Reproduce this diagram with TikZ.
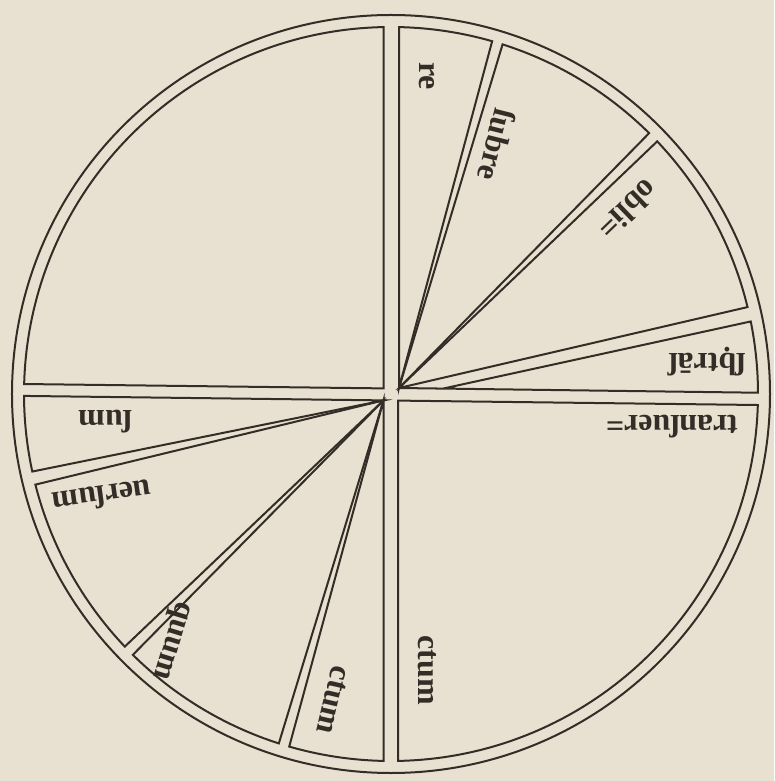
\documentclass[tikz,border=0pt]{standalone}
\usepackage{fontspec}
\setmainfont{Liberation Serif}
\definecolor{paper}{RGB}{232,225,209}
\definecolor{ink}{RGB}{52,44,38}
\tikzset{
  wheel rim/.style={draw=ink,line width=2pt},
  wheel sector/.style={draw=ink,line width=2pt,line join=miter},
  wheel label/.style={text=ink,inner sep=0pt,font=\bfseries\fontsize{32}{32}\selectfont}
}
\newcommand{\rin}{367}

\begin{document}
\begin{tikzpicture}[x=1pt,y=1pt]
  \fill[paper] (-391,-387) rectangle (383,394);
  \useasboundingbox (-391,-387) rectangle (383,394);
  \coordinate (hub) at (0,0);
  \coordinate (fanNE) at (8,6);
  \coordinate (fanSW) at (-7.5,-6.4);
  \coordinate (cornerNW) at (-7.5,5.6);
  \coordinate (cornerSE) at (7,-6.6);
  \coordinate (footNE) at (52,5.4);
  \draw[wheel rim] (hub) circle[radius=379];
  % upper left quarter, left blank
  \draw[wheel sector] (cornerNW) -- (91.17:\rin) arc[start angle=91.17,end angle=178.44,radius=\rin] -- cycle;
  % lower right quarter
  \draw[wheel sector] (cornerSE) -- (-1.72:\rin) arc[start angle=-1.72,end angle=-88.9,radius=\rin] -- cycle;
  % fan of the upper right quarter
  \draw[wheel sector] (fanNE) -- (88.75:\rin) arc[start angle=88.75,end angle=74,radius=\rin] -- cycle;
  \foreach \a/\b in {72.3/45.3,43.5/13.7}
    \draw[wheel sector] (fanNE) -- (\a:\rin) arc[start angle=\a,end angle=\b,radius=\rin] -- cycle;
  \draw[wheel sector] (fanNE) -- (footNE) -- (11.4:\rin) arc[start angle=11.4,end angle=0.2,radius=\rin] -- cycle;
  % fan of the lower left quarter
  \draw[wheel sector] (fanSW) -- (180.3:\rin) arc[start angle=180.3,end angle=192.2,radius=\rin] -- cycle;
  \foreach \a/\b in {194.3/223.5,225.3/252.2}
    \draw[wheel sector] (fanSW) -- (\a:\rin) arc[start angle=\a,end angle=\b,radius=\rin] -- cycle;
  \draw[wheel sector] (fanSW) -- (253.9:\rin) arc[start angle=253.9,end angle=268.83,radius=\rin] -- cycle;
  % labels
  \node[wheel label,rotate=-90] (re) at (36,318) {re};
  \node[wheel label,rotate=-104] (subre) at (106,249) {ſubre};
  \node[wheel label,rotate=-136] (obli) at (237,184) {obli=};
  \node[wheel label,rotate=180] (subtrans) at (316,32) {ſ\d{b}trāſ};
  \node[wheel label,rotate=180] (transuer) at (281,-33) {tranſuer=};
  \node[wheel label,rotate=-90] (ctumSE) at (36,-276) {ctum};
  \node[wheel label,rotate=180] (sum) at (-286,-28) {ſum};
  \node[wheel label,rotate=188] (uersum) at (-289,-103) {uerſum};
  \node[wheel label,rotate=-107] (quum) at (-221,-246) {quum};
  \node[wheel label,rotate=-103] (ctumSW) at (-58,-306) {ctum};
\end{tikzpicture}
\end{document}
